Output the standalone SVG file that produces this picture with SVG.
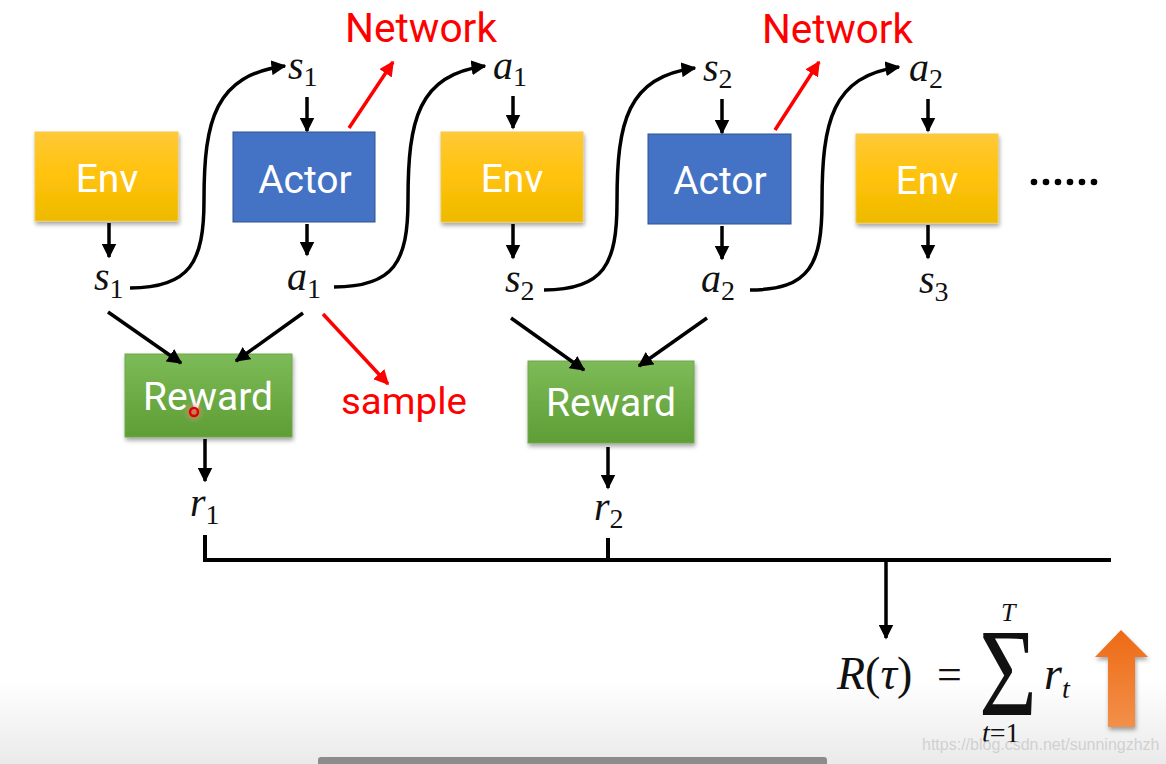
<svg xmlns="http://www.w3.org/2000/svg" width="1166" height="764" viewBox="0 0 1166 764">
<defs>
<linearGradient id="gEnv" x1="0" y1="0" x2="0" y2="1"><stop offset="0" stop-color="#FFC938"/><stop offset="0.5" stop-color="#FFC20A"/><stop offset="1" stop-color="#EDBA00"/></linearGradient>
<linearGradient id="gRew" x1="0" y1="0" x2="0" y2="1"><stop offset="0" stop-color="#7DBB59"/><stop offset="0.5" stop-color="#6DAC45"/><stop offset="1" stop-color="#5F9E36"/></linearGradient>
<linearGradient id="gOr" x1="0" y1="0" x2="0" y2="1"><stop offset="0" stop-color="#EE6A16"/><stop offset="1" stop-color="#F29049"/></linearGradient>
<linearGradient id="gBg" x1="0" y1="0" x2="0" y2="1"><stop offset="0" stop-color="#FFFFFF"/><stop offset="1" stop-color="#EAEAEA"/></linearGradient>
<radialGradient id="gGlow"><stop offset="0" stop-color="#FF6060" stop-opacity="0.7"/><stop offset="1" stop-color="#FF9090" stop-opacity="0"/></radialGradient>
<filter id="sh" x="-20%" y="-20%" width="140%" height="150%"><feDropShadow dx="1" dy="3" stdDeviation="2" flood-color="#000" flood-opacity="0.35"/></filter>
<marker id="ah" viewBox="0 0 10 10" refX="9" refY="5" markerWidth="15" markerHeight="15" markerUnits="userSpaceOnUse" orient="auto"><path d="M0,0 L10,5 L0,10 z" fill="#000"/></marker>
<marker id="ahr" viewBox="0 0 10 10" refX="9" refY="5" markerWidth="15" markerHeight="15" markerUnits="userSpaceOnUse" orient="auto"><path d="M0,0 L10,5 L0,10 z" fill="#FF0000"/></marker>
<style>
.env{fill:url(#gEnv);stroke:#F2C94C;stroke-width:1;filter:url(#sh)}
.act{fill:#4472C4;stroke:#2F528F;stroke-width:1}
.rew{fill:url(#gRew);stroke:#6EA84A;stroke-width:1;filter:url(#sh)}
.bl{font-family:Roboto,"Liberation Sans",sans-serif;font-size:39px;fill:#FFFFFF;text-anchor:middle}
.red{font-family:Roboto,"Liberation Sans",sans-serif;fill:#FF0000}
.m{font-family:"Liberation Serif",serif;font-style:italic;font-size:40px;fill:#111}
.sub{font-style:normal;font-size:28px}
.c{fill:none;stroke:#000;stroke-width:3.5;marker-end:url(#ah)}
.cr{fill:none;stroke:#FF0000;stroke-width:3.5;marker-end:url(#ahr)}
.ln{fill:none;stroke:#000;stroke-width:4}
</style>
</defs>
<rect x="0" y="0" width="1166" height="764" fill="#FFFFFF"/>
<rect x="0" y="680" width="1166" height="84" fill="url(#gBg)"/>

<g id="env1"><rect class="env" x="35" y="132" width="143" height="89"/><text class="bl" x="107" y="192">Env</text></g>
<g id="actor1"><rect class="act" x="233" y="132" width="142" height="90"/><text class="bl" x="305" y="193">Actor</text></g>
<g id="env2"><rect class="env" x="441" y="132" width="142" height="90"/><text class="bl" x="512" y="192">Env</text></g>
<g id="actor2"><rect class="act" x="648" y="134" width="143" height="90"/><text class="bl" x="720" y="194">Actor</text></g>
<g id="env3"><rect class="env" x="856" y="134" width="142" height="89"/><text class="bl" x="927" y="194">Env</text></g>
<g id="reward1"><rect class="rew" x="125" y="354" width="167" height="83"/><text class="bl" x="208" y="410">Reward</text></g>
<g id="reward2"><rect class="rew" x="528" y="361" width="166" height="82"/><text class="bl" x="611" y="416">Reward</text></g>

<g id="dots" fill="#000"><circle cx="1034" cy="182" r="3.3"/><circle cx="1046" cy="182" r="3.3"/><circle cx="1058" cy="182" r="3.3"/><circle cx="1070" cy="182" r="3.3"/><circle cx="1082" cy="182" r="3.3"/><circle cx="1094" cy="182" r="3.3"/></g>

<g id="labels">
<text class="m" x="288" y="79">s<tspan class="sub" dy="7">1</tspan></text>
<text class="m" x="493" y="79">a<tspan class="sub" dy="7">1</tspan></text>
<text class="m" x="703" y="81">s<tspan class="sub" dy="7">2</tspan></text>
<text class="m" x="909" y="81">a<tspan class="sub" dy="7">2</tspan></text>
<text class="m" x="94" y="290">s<tspan class="sub" dy="8">1</tspan></text>
<text class="m" x="287" y="290">a<tspan class="sub" dy="8">1</tspan></text>
<text class="m" x="505" y="292">s<tspan class="sub" dy="8">2</tspan></text>
<text class="m" x="701" y="292">a<tspan class="sub" dy="8">2</tspan></text>
<text class="m" x="919" y="293">s<tspan class="sub" dy="8">3</tspan></text>
<text class="m" x="190" y="516">r<tspan class="sub" dy="8">1</tspan></text>
<text class="m" x="594" y="520">r<tspan class="sub" dy="8">2</tspan></text>
<text class="red" x="345" y="42" font-size="40" textLength="152" lengthAdjust="spacingAndGlyphs">Network</text>
<text class="red" x="762" y="43" font-size="40" textLength="151" lengthAdjust="spacingAndGlyphs">Network</text>
<text class="red" x="341" y="414" font-size="36" textLength="126" lengthAdjust="spacingAndGlyphs">sample</text>
</g>

<g id="connectors">
<path class="c" d="M130,288 C190,288 204,262 204,200 C204,120 215,75 285,66"/>
<path class="c" d="M334,287 C394,287 408,262 408,200 C408,120 418,75 485,66"/>
<path class="c" d="M544,290 C604,290 617,264 617,202 C617,122 627,77 695,68"/>
<path class="c" d="M750,290 C810,290 822,264 822,202 C822,122 832,76 899,67"/>
<line class="c" x1="109" y1="223" x2="109" y2="257"/>
<line class="c" x1="307" y1="97" x2="307" y2="131"/>
<line class="c" x1="307" y1="224" x2="307" y2="255"/>
<line class="c" x1="513" y1="96" x2="513" y2="128"/>
<line class="c" x1="513" y1="224" x2="513" y2="258"/>
<line class="c" x1="722" y1="99" x2="722" y2="133"/>
<line class="c" x1="722" y1="226" x2="722" y2="259"/>
<line class="c" x1="928" y1="99" x2="928" y2="131"/>
<line class="c" x1="928" y1="225" x2="928" y2="258"/>
<line class="c" x1="108" y1="312" x2="181" y2="363"/>
<line class="c" x1="303" y1="313" x2="236" y2="361"/>
<line class="c" x1="511" y1="318" x2="584" y2="370"/>
<line class="c" x1="707" y1="318" x2="639" y2="366"/>
<line class="c" x1="205" y1="439" x2="205" y2="481"/>
<line class="c" x1="608" y1="447" x2="608" y2="488"/>
<line class="cr" x1="349" y1="128" x2="393" y2="62"/>
<line class="cr" x1="775" y1="130" x2="819" y2="62"/>
<line class="cr" x1="323" y1="314" x2="388" y2="384"/>
<path class="ln" d="M205,535 L205,560 M203,560 L1111,560 M608,538 L608,560"/>
<line class="c" x1="886" y1="560" x2="886" y2="638"/>
</g>

<g id="formula" font-family="'Liberation Serif',serif" fill="#111">
<text x="837" y="689" font-size="46" font-style="italic">R<tspan font-style="normal">(</tspan>τ<tspan font-style="normal">)</tspan></text>
<text x="937" y="689" font-size="44">=</text>
<text x="979" y="715" font-size="125" textLength="58" lengthAdjust="spacingAndGlyphs">Σ</text>
<text x="1001" y="621" font-size="26" font-style="italic">T</text>
<text x="982" y="742" font-size="28" font-style="italic">t<tspan font-style="normal">=1</tspan></text>
<text x="1044" y="689" font-size="46" font-style="italic">r<tspan font-size="28" dy="9">t</tspan></text>
</g>

<path id="up" d="M1121,630 L1148,657 L1135,657 L1135,727 L1108,727 L1108,657 L1095,657 Z" fill="url(#gOr)" filter="url(#sh)"/>

<circle cx="194" cy="412" r="11" fill="url(#gGlow)"/>
<circle cx="194" cy="412" r="4" fill="none" stroke="#E00000" stroke-width="2.5"/>

<text x="922" y="750" font-family="'Liberation Sans',sans-serif" font-size="16" fill="#C8C8C8" fill-opacity="0.8">https://blog.csdn.net/sunningzhzh</text>
<rect x="318" y="757" width="509" height="10" rx="3" fill="#8C8C8C"/>
</svg>
